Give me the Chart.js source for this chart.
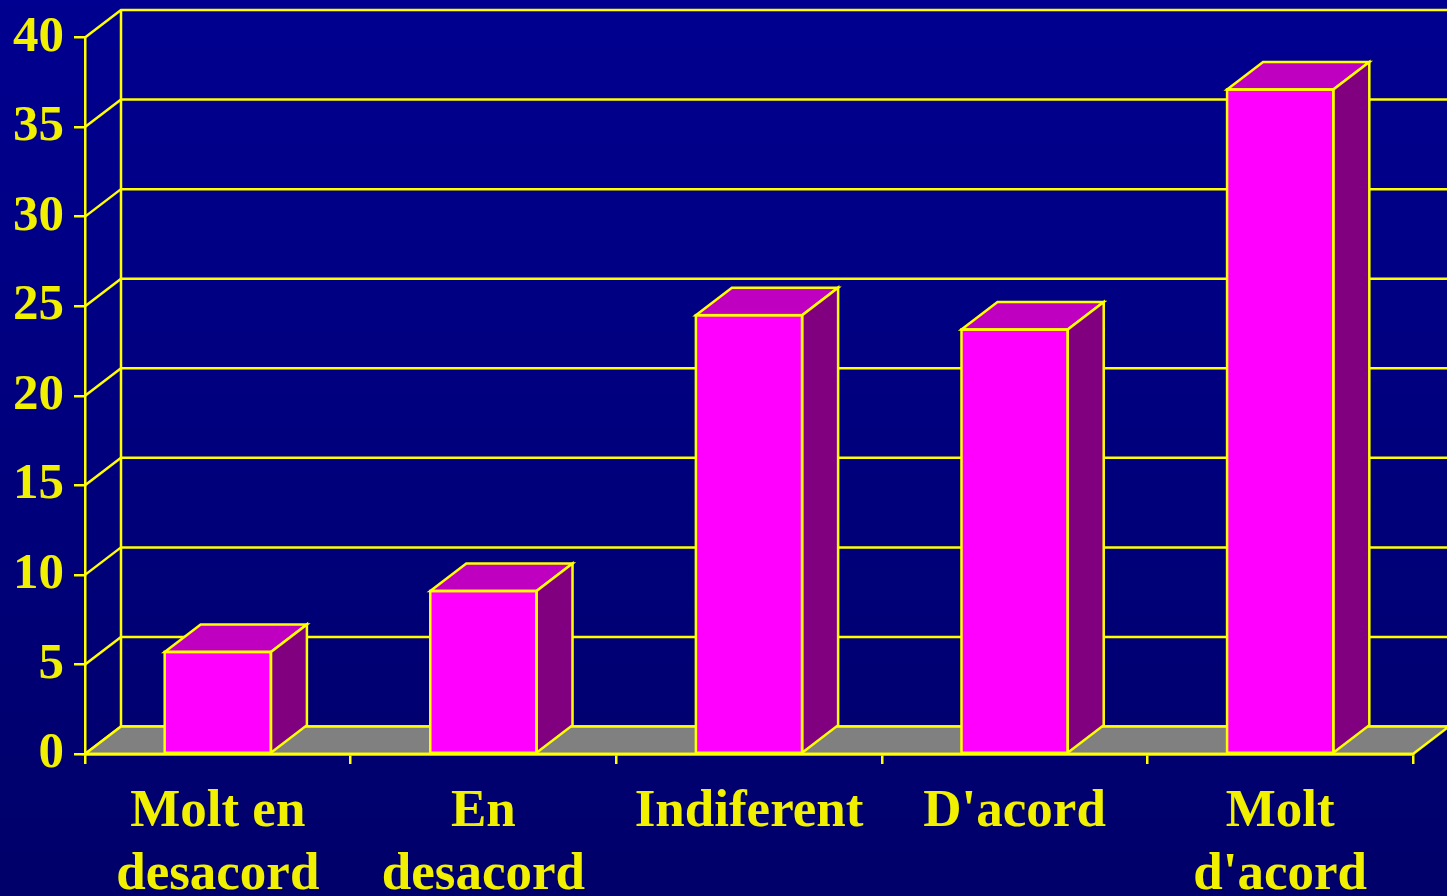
<!DOCTYPE html>
<html>
<head>
<meta charset="utf-8">
<script src="https://cdn.jsdelivr.net/npm/chart.js@4/dist/chart.umd.min.js"></script>
<style>
  html, body { margin: 0; padding: 0; background: #000080; overflow: hidden; }
  canvas { display: block; }
</style>
</head>
<body>
<canvas id="c" width="1447" height="896"></canvas>
<script>
const categories = [["Molt en", "desacord"], ["En", "desacord"], ["Indiferent"], ["D'acord"], ["Molt", "d'acord"]];
const values = [5.7, 9.1, 24.5, 23.7, 37.1];
const yMin = 0;
const yMax = 40;
const yStep = 5;

const YELLOW = '#FFFF00';
const TEXT = '#F0F000';
const DX = 36, DY = 27.5;
const LW = 2.5;

const threeD = {
  id: 'threeD',
  beforeDraw(chart) {
    const ctx = chart.ctx;
    const g = ctx.createLinearGradient(0, 0, 0, chart.height);
    g.addColorStop(0, '#000090');
    g.addColorStop(1, '#00006A');
    ctx.save();
    ctx.fillStyle = g;
    ctx.fillRect(0, 0, chart.width, chart.height);
    ctx.restore();
  },
  beforeDatasetsDraw(chart) {
    const ctx = chart.ctx;
    const y = chart.scales.y, x = chart.scales.x;
    const L = x.left, R = x.right;
    ctx.save();
    ctx.strokeStyle = YELLOW;
    ctx.lineWidth = LW;
    y.ticks.forEach(t => {
      const py = y.getPixelForValue(t.value);
      ctx.beginPath();
      ctx.moveTo(L, py);
      ctx.lineTo(L + DX, py - DY);
      ctx.lineTo(chart.width + 5, py - DY);
      ctx.stroke();
    });
    ctx.beginPath();
    ctx.moveTo(L + DX, y.getPixelForValue(yMin) - DY);
    ctx.lineTo(L + DX, y.getPixelForValue(yMax) - DY);
    ctx.stroke();
    const b = y.getPixelForValue(yMin);
    ctx.beginPath();
    ctx.moveTo(L, b);
    ctx.lineTo(R, b);
    ctx.lineTo(R + DX, b - DY);
    ctx.lineTo(L + DX, b - DY);
    ctx.closePath();
    ctx.fillStyle = '#808080';
    ctx.fill();
    ctx.stroke();
    ctx.restore();
  },
  afterDatasetsDraw(chart) {
    const ctx = chart.ctx;
    const meta = chart.getDatasetMeta(0);
    ctx.save();
    ctx.strokeStyle = YELLOW;
    ctx.lineWidth = LW;
    ctx.lineJoin = 'miter';
    meta.data.forEach(bar => {
      const p = bar.getProps(['x', 'y', 'base', 'width'], true);
      const l = p.x - p.width / 2, r = p.x + p.width / 2;
      const t = p.y, bt = p.base;
      ctx.beginPath();
      ctx.moveTo(l, t);
      ctx.lineTo(r, t);
      ctx.lineTo(r + DX, t - DY);
      ctx.lineTo(l + DX, t - DY);
      ctx.closePath();
      ctx.fillStyle = '#C000C0';
      ctx.fill();
      ctx.stroke();
      ctx.beginPath();
      ctx.moveTo(r, t);
      ctx.lineTo(r + DX, t - DY);
      ctx.lineTo(r + DX, bt - DY);
      ctx.lineTo(r, bt);
      ctx.closePath();
      ctx.fillStyle = '#800080';
      ctx.fill();
      ctx.stroke();
      ctx.strokeRect(l, t, r - l, bt - t);
    });
    const b = chart.scales.y.getPixelForValue(yMin);
    ctx.beginPath();
    ctx.moveTo(chart.scales.x.left, b);
    ctx.lineTo(chart.scales.x.right, b);
    ctx.stroke();
    ctx.restore();
  }
};

new Chart(document.getElementById('c'), {
  type: 'bar',
  data: {
    labels: categories,
    datasets: [{
      data: values,
      backgroundColor: '#FF00FF',
      borderColor: YELLOW,
      borderWidth: 0,
      categoryPercentage: 1.0,
      barPercentage: 0.4
    }]
  },
  options: {
    responsive: false,
    animation: false,
    events: [],
    layout: { padding: { top: 37.5, right: 34, left: 0, bottom: 0 } },
    plugins: { legend: { display: false }, tooltip: { enabled: false } },
    scales: {
      x: {
        afterFit(s) { s.height = 142; s.paddingLeft = 0; s.paddingRight = 0; },
        grid: { drawOnChartArea: false, color: YELLOW, lineWidth: LW, tickLength: 10, offset: true },
        border: { display: true, color: YELLOW, width: LW },
        ticks: {
          color: TEXT,
          padding: 17,
          maxRotation: 0,
          autoSkip: false,
          font: { family: '"Liberation Serif", "Times New Roman", serif', weight: 'bold', size: 53, lineHeight: 1.19 }
        }
      },
      y: {
        min: yMin,
        max: yMax,
        afterFit(s) { s.width = 85; s.paddingTop = 0; s.paddingBottom = 0; },
        grid: { drawOnChartArea: false, color: YELLOW, lineWidth: LW, tickLength: 11 },
        border: { display: true, color: YELLOW, width: LW },
        ticks: {
          stepSize: yStep,
          color: TEXT,
          padding: 10,
          font: { family: '"Liberation Serif", "Times New Roman", serif', weight: 'bold', size: 51 }
        }
      }
    }
  },
  plugins: [threeD]
});
</script>
</body>
</html>
